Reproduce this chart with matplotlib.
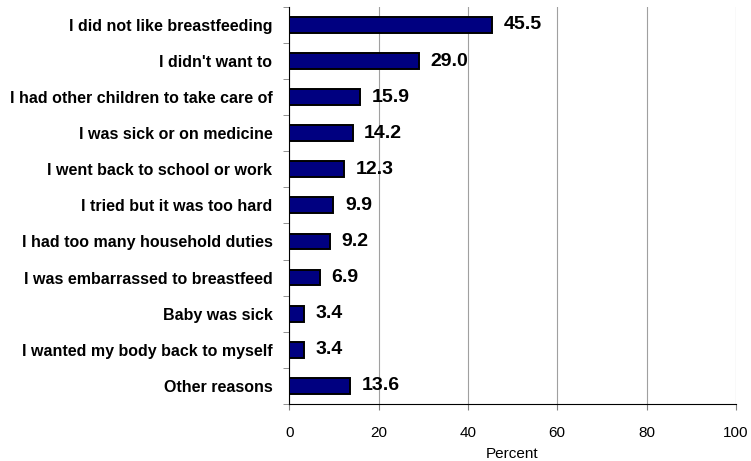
import matplotlib
matplotlib.use("Agg")
import matplotlib.pyplot as plt
import numpy as np

plt.rcParams['font.family'] = ['Liberation Sans', 'DejaVu Sans']

reasons = [
    "I did not like breastfeeding",
    "I didn't want to",
    "I had other children to take care of",
    "I was sick or on medicine",
    "I went back to school or work",
    "I tried but it was too hard",
    "I had too many household duties",
    "I was embarrassed to breastfeed",
    "Baby was sick",
    "I wanted my body back to myself",
    "Other reasons",
]
percents = [45.5, 29.0, 15.9, 14.2, 12.3, 9.9, 9.2, 6.9, 3.4, 3.4, 13.6]
xticks = [0, 20, 40, 60, 80, 100]

fig = plt.figure(figsize=(7.51, 4.61), dpi=100)
ax = fig.add_axes([0.385, 0.124, 0.595, 0.861])

y = np.arange(len(reasons))
ax.barh(y, percents, height=0.44, color="#000080", edgecolor="black", linewidth=1.4, zorder=3)

for yi, v in zip(y, percents):
    ax.text(v + 2.6, yi, "{:.1f}".format(v), va="center", ha="left",
            fontsize=14, fontweight="bold", zorder=4)

ax.set_ylim(len(reasons) - 0.5, -0.5)
ax.set_xlim(0, 100)
ax.set_xticks(xticks)
ax.tick_params(axis="x", labelsize=11, length=4, pad=12, color="#808080")
ax.set_yticks(y)
ax.set_yticklabels(reasons, fontsize=11.5, fontweight="bold")
ax.tick_params(axis="y", which="major", length=0, pad=12)
ax.set_yticks(np.arange(-0.5, len(reasons), 1), minor=True)
ax.tick_params(axis="y", which="minor", length=4, color="#808080")
ax.set_xlabel("Percent", fontsize=11, labelpad=5)

ax.grid(axis="x", color="#a0a0a0", linewidth=0.8, zorder=0)
for s in ["top", "right"]:
    ax.spines[s].set_visible(False)
ax.spines["left"].set_color("black")
ax.spines["bottom"].set_color("black")

plt.savefig("out.png", dpi=100)
